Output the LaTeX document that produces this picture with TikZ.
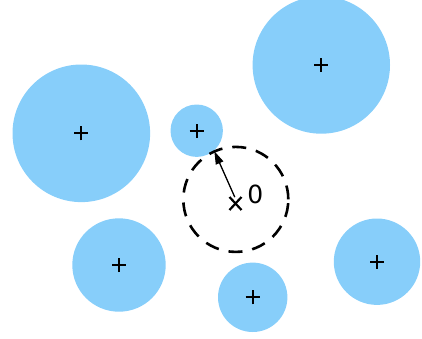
\documentclass[tikz,border=0pt]{standalone}
\usepackage{fontspec}
\setmainfont{DejaVu Sans}
\usetikzlibrary{arrows.meta}
\definecolor{skyfill}{RGB}{135,206,250}

\begin{document}
\begin{tikzpicture}[
    x=1pt, y=-1pt,
    blob/.style={circle, fill=skyfill, inner sep=0pt},
    cross/.style={line width=2.2pt},
    probe/.style={circle, draw, dash pattern=on 14pt off 10pt, line width=2.6pt, inner sep=0pt},
]
    \clip (0,0) rectangle (422,338);

    \node[blob, minimum size=137.6pt] (left) at (81.3,133.3) {};
    \node[blob, minimum size=137.4pt] (topright) at (321.3,65) {};
    \node[blob, minimum size=52.4pt] (small) at (196.7,130.7) {};
    \node[blob, minimum size=93.4pt] (lowleft) at (119,265) {};
    \node[blob, minimum size=69.4pt] (lowmid) at (252.7,297.3) {};
    \node[blob, minimum size=86.4pt] (right) at (377,261.7) {};

    % centre marks
    \foreach \c in {left,topright,small,lowleft,lowmid,right}
        \draw[cross] ([xshift=-7pt]\c.center) -- ([xshift=7pt]\c.center)
                     ([yshift=-7pt]\c.center) -- ([yshift=7pt]\c.center);

    % query point and its radius
    \node[probe, minimum size=105pt] (ring) at (235.8,199.4) {};
    \coordinate (query) at (235.5,203.5);
    \draw[cross] ([shift={(-6pt,-6.5pt)}]query) -- ([shift={(6pt,6.5pt)}]query)
                 ([shift={(-6pt,6.5pt)}]query) -- ([shift={(6pt,-6.5pt)}]query);
    \node[font=\fontsize{25}{25}\selectfont, inner sep=0pt] (name) at (255.3,194) {0};
    \draw[-{Triangle[length=13pt,width=8pt]}, line width=1.3pt, shorten <=2.5pt, shorten >=1pt] (ring.center) -- (ring.114);
\end{tikzpicture}
\end{document}
